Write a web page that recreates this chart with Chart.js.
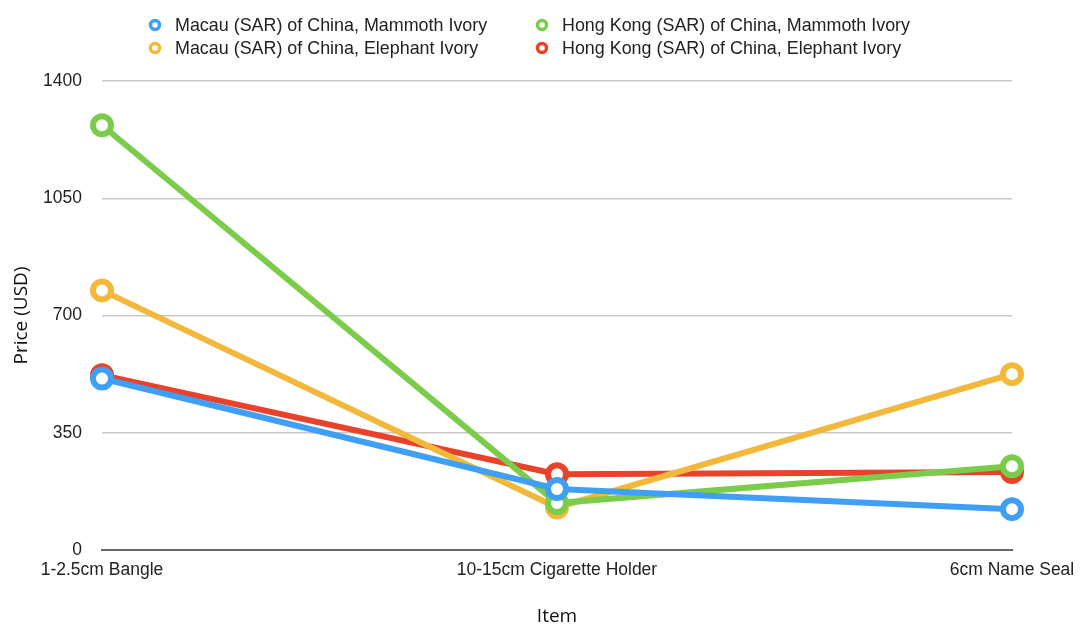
<!DOCTYPE html>
<html>
<head>
<meta charset="utf-8">
<title>Ivory prices</title>
<script src="https://cdn.jsdelivr.net/npm/chart.js@4"></script>
<style>
  html, body { margin: 0; padding: 0; background: #fff; }
  #wrap { width: 1087px; height: 628px; }
</style>
</head>
<body>
<div id="wrap"><canvas id="ivory"></canvas></div>
<script>
const items = ["1-2.5cm Bangle", "10-15cm Cigarette Holder", "6cm Name Seal"];
const macauMammoth = [512, 182, 122];
const hkMammoth = [1268, 140, 250];
const macauElephant = [775, 127, 525];
const hkElephant = [522, 226, 233];
const priceTicks = [0, 350, 700, 1050, 1400];

const tickFont = { family: "'Liberation Sans', Arial, sans-serif", size: 17.5 };
const titleFont = { family: "'Open Sans', sans-serif", size: 19 };

function series(label, values, color) {
    return {
        label: label,
        data: values,
        borderColor: color,
        backgroundColor: color,
        borderWidth: 6,
        pointRadius: 9,
        pointHoverRadius: 9,
        pointBorderWidth: 6,
        pointBackgroundColor: "#fff",
        pointBorderColor: color,
        tension: 0
    };
}

// two-column legend drawn above the plot
const gridLegend = {
    id: "gridLegend",
    afterDraw(chart) {
        const ctx = chart.ctx;
        const cols = [155, 542];
        const rows = [25, 48];
        ctx.save();
        ctx.font = "17.9px 'Liberation Sans', Arial, sans-serif";
        ctx.textBaseline = "middle";
        ctx.textAlign = "left";
        chart.data.datasets.forEach((ds, i) => {
            const x = cols[i % 2];
            const y = rows[Math.floor(i / 2)];
            ctx.beginPath();
            ctx.arc(x, y, 4.5, 0, Math.PI * 2);
            ctx.fillStyle = "#fff";
            ctx.fill();
            ctx.lineWidth = 3.5;
            ctx.strokeStyle = ds.borderColor;
            ctx.stroke();
            ctx.fillStyle = "#222";
            ctx.fillText(ds.label, x + 20, y + 1);
        });
        ctx.restore();
    }
};

new Chart(document.getElementById("ivory"), {
    type: "line",
    data: {
        labels: items,
        datasets: [
            series("Macau (SAR) of China, Mammoth Ivory", macauMammoth, "#3e9ff5"),
            series("Hong Kong (SAR) of China, Mammoth Ivory", hkMammoth, "#7bcc4a"),
            series("Macau (SAR) of China, Elephant Ivory", macauElephant, "#f2b83c"),
            series("Hong Kong (SAR) of China, Elephant Ivory", hkElephant, "#e8432a")
        ]
    },
    options: {
        responsive: true,
        maintainAspectRatio: false,
        animation: false,
        layout: { padding: { top: 81, left: 0, right: 75, bottom: 0 } },
        plugins: {
            legend: { display: false },
            tooltip: { enabled: false }
        },
        scales: {
            x: {
                offset: false,
                grid: { display: false, drawTicks: false },
                border: { display: true, color: "#666", width: 2 },
                ticks: { font: tickFont, color: "#222", padding: 10, maxRotation: 0, autoSkip: false },
                title: { display: true, text: "Item", font: titleFont, color: "#111", padding: { top: 0, bottom: 0 } },
                afterFit(scale) { scale.height = 78; }
            },
            y: {
                min: 0,
                max: 1400,
                afterBuildTicks(scale) { scale.ticks = priceTicks.map(v => ({ value: v })); },
                grid: {
                    drawTicks: false,
                    color: ctx => ctx.tick && ctx.tick.value === 0 ? "rgba(0,0,0,0)" : "#c8c8c8",
                    lineWidth: 1.5
                },
                border: { display: false },
                ticks: { font: tickFont, color: "#222", padding: 20, callback: v => String(v) },
                title: { display: true, text: "Price (USD)", font: titleFont, color: "#111", padding: { top: 10, bottom: 0 } },
                afterFit(scale) { scale.width = 102; }
            }
        }
    },
    plugins: [gridLegend]
});
</script>
</body>
</html>
